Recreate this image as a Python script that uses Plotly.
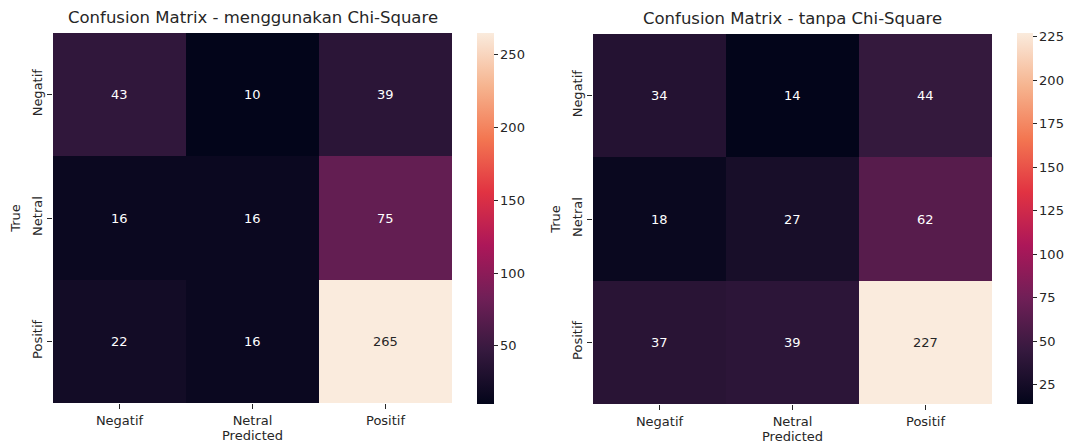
import plotly.graph_objects as go

labels = ["Negatif", "Netral", "Positif"]
cm_chi = [[43, 10, 39],
          [16, 16, 75],
          [22, 16, 265]]
cm_no_chi = [[34, 14, 44],
             [18, 27, 62],
             [37, 39, 227]]
titles = ["Confusion Matrix - menggunakan Chi-Square", "Confusion Matrix - tanpa Chi-Square"]
cbar_ticks_chi = [50, 100, 150, 200, 250]
cbar_ticks_no_chi = [25, 50, 75, 100, 125, 150, 175, 200, 225]

rocket = [
    [0.0, "#03051a"],
    [1/7, "#35193e"],
    [2/7, "#701f57"],
    [3/7, "#ad1759"],
    [4/7, "#e13342"],
    [5/7, "#f37651"],
    [6/7, "#f6b48f"],
    [1.0, "#faebdd"],
]

W, H = 1074, 448
OFF = 8  # page body margin offset
FONT = "DejaVu Sans"
TXT = "#262626"

def px_x(a, b):
    return [(a - OFF) / W, (b - OFF) / W]

def px_y(top, bottom):
    return [(H - (bottom - OFF)) / H, (H - (top - OFF)) / H]

panels = [
    dict(z=cm_chi, ticks=cbar_ticks_chi, xd=px_x(53, 452), yd=px_y(33, 403),
         cbx=(477 - OFF) / W, cbt=17, cby=px_y(33, 404)),
    dict(z=cm_no_chi, ticks=cbar_ticks_no_chi, xd=px_x(593, 992), yd=px_y(34, 404),
         cbx=(1017 - OFF) / W, cbt=16, cby=px_y(33, 404)),
]

fig = go.Figure()
annotations = []
for i, p in enumerate(panels):
    xa = "x" if i == 0 else "x2"
    ya = "y" if i == 0 else "y2"
    z = p["z"]
    flat = [v for row in z for v in row]
    zmin, zmax = min(flat), max(flat)
    yd = p["yd"]
    cy = p["cby"]
    fig.add_trace(go.Heatmap(
        z=z, x=labels, y=labels, xaxis=xa, yaxis=ya,
        colorscale=rocket, zmin=zmin, zmax=zmax,
        colorbar=dict(
            x=p["cbx"], xanchor="left", thickness=p["cbt"], xpad=0, ypad=0,
            len=cy[1] - cy[0], lenmode="fraction", y=(cy[0] + cy[1]) / 2, yanchor="middle",
            tickvals=p["ticks"], ticks="outside", ticklen=4, tickwidth=1, tickcolor=TXT,
            outlinewidth=0, tickfont=dict(family=FONT, size=13, color=TXT),
        ),
        hoverinfo="skip",
    ))
    for r, rl in enumerate(labels):
        for c, cl in enumerate(labels):
            v = z[r][c]
            frac = (v - zmin) / (zmax - zmin)
            col = TXT if frac > 0.6 else "white"
            annotations.append(dict(x=cl, y=rl, xref=xa, yref=ya, text=str(v),
                                    showarrow=False,
                                    font=dict(family=FONT, size=13, color=col)))
    xd = p["xd"]
    annotations.append(dict(x=(xd[0] + xd[1]) / 2, y=yd[1], xref="paper", yref="paper",
                            xanchor="center", yanchor="bottom", yshift=4, text=titles[i],
                            showarrow=False,
                            font=dict(family=FONT, size=16.5, color=TXT)))

axis_common = dict(showgrid=False, zeroline=False, showline=False, ticks="outside",
                   ticklen=5, tickwidth=1, tickcolor=TXT, automargin=False,
                   tickfont=dict(family=FONT, size=13, color=TXT))

fig.update_layout(
    width=W, height=H, margin=dict(l=0, r=0, t=0, b=0, autoexpand=False),
    paper_bgcolor="white", plot_bgcolor="white",
    showlegend=False,
    annotations=annotations,
    xaxis=dict(domain=panels[0]["xd"], anchor="y",
               title=dict(text="Predicted", standoff=4, font=dict(family=FONT, size=13, color=TXT)),
               **axis_common),
    yaxis=dict(domain=panels[0]["yd"], anchor="x", autorange="reversed", tickangle=-90,
               title=dict(text="True", standoff=6, font=dict(family=FONT, size=13, color=TXT)),
               **axis_common),
    xaxis2=dict(domain=panels[1]["xd"], anchor="y2",
                title=dict(text="Predicted", standoff=4, font=dict(family=FONT, size=13, color=TXT)),
                **axis_common),
    yaxis2=dict(domain=panels[1]["yd"], anchor="x2", autorange="reversed", tickangle=-90,
                title=dict(text="True", standoff=6, font=dict(family=FONT, size=13, color=TXT)),
                **axis_common),
)

fig.write_html("out.html")
